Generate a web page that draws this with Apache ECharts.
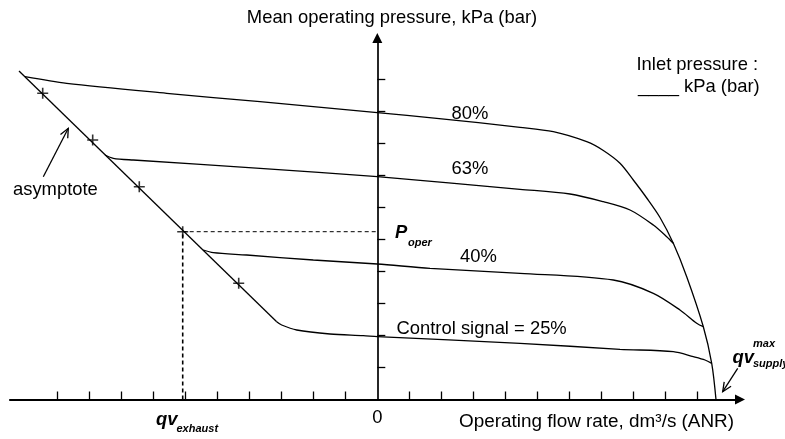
<!DOCTYPE html>
<html><head><meta charset="utf-8">
<script src="https://cdn.jsdelivr.net/npm/echarts@6/dist/echarts.min.js"></script>
<style>html,body{margin:0;padding:0;background:#fff}#c{width:785px;height:439px}</style>
</head><body><div id="c"></div>
<script>
// ---- data (axis units: one tick = 1) ----
const xTicks = [-10,-9,-8,-7,-6,-5,-4,-3,-2,-1,1,2,3,4,5,6,7,8,9,10];
const yTicks = [1,2,3,4,5,6,7,8,9,10];
const xTickLabels = [0];
const asymptote = [[-11.197,10.266],[-3.144,2.431]];
const plusMarks = [[-10.456,9.569],[-8.894,8.109],[-7.4375,6.65],[-6.081,5.244],[-4.331,3.631]];
const curve80 = [[-11.009,10.088],[-9.706,9.881],[-6.581,9.569],[-3.666,9.306],[0,8.963],[1.856,8.788],
  [4.459,8.506],[5.5,8.369],[6.544,8.056],[7.063,7.781],[7.584,7.381],[8.0,6.859],[8.419,6.297],
  [8.834,5.688],[9.25,4.881],[9.669,3.838],[10.188,2.275],[10.45,1.131],[10.584,0]];
const curve63 = [[-8.509,7.641],[-8.25,7.538],[-7.625,7.484],[-3.666,7.225],[0,6.963],[4.459,6.569],
  [6.022,6.422],[7.063,6.181],[7.897,5.922],[8.625,5.453],[9.044,5.088],[9.25,4.881]];
const curve40 = [[-5.438,4.672],[-5.125,4.588],[-4.081,4.516],[-2.0,4.359],[0,4.234],[1.647,4.1],
  [4.459,3.944],[7.375,3.734],[8.625,3.319],[9.459,2.797],[9.981,2.381],[10.188,2.275]];
const curve25 = [[-3.144,2.431],[-2.988,2.328],[-2.519,2.172],[-1.478,2.047],[-0.4375,1.994],[0,1.963],
  [4.459,1.756],[7.584,1.569],[9.25,1.494],[9.875,1.338],[10.241,1.234],[10.45,1.131]];
const pOper = 5.244;
const qvExhaust = -6.081;
const curveLabels = ['80%','63%','40%','Control signal = 25%'];

// ---- chart ----
const FONT = 'Liberation Sans, Arial, sans-serif';
const FS = 18.4;
const chart = echarts.init(document.getElementById('c'), null, {renderer:'canvas'});
const black = '#000';
function curve(data){
  return {type:'line', data:data, symbol:'none', smooth:0.3, lineStyle:{color:black,width:1.3}, z:3, silent:true};
}
function arrowHead(tail, tip, len, ang){
  const dx = tail[0]-tip[0], dy = tail[1]-tip[1];
  const L = Math.hypot(dx,dy), ux = dx/L, uy = dy/L;
  const r = a => [tip[0] + len*(ux*Math.cos(a) - uy*Math.sin(a)), tip[1] + len*(ux*Math.sin(a) + uy*Math.cos(a))];
  return [r(ang), tip, r(-ang)];
}
function txt(x, y, s, size, opts){
  return Object.assign({type:'text', x:x, y:y, silent:true,
    style:Object.assign({text:s, fontSize:size, fontFamily:FONT, fill:black, textAlign:'left', textVerticalAlign:'middle'}, opts||{})});
}
const bi = {fontStyle:'italic', fontWeight:'bold'};
const asymTail = [43.3,176.7], asymTip = [68.3,128.3];
const supTail = [737.7,368.3], supTip = [722.7,391.7];

chart.setOption({
  animation:false,
  backgroundColor:'#fff',
  grid:{left:10, right:45, top:38, bottom:39.5, containLabel:false},
  xAxis:{type:'value', min:-11.478, max:11.334,
    axisLine:{show:true, onZero:true, symbol:['none','triangle'], symbolSize:[10,10], lineStyle:{color:black,width:2.2}},
    axisTick:{show:true, inside:true, length:8, customValues:xTicks, lineStyle:{color:black,width:1.3}},
    axisLabel:{show:true, customValues:xTickLabels, formatter:v=>String(v), fontSize:FS, fontFamily:FONT, color:black, margin:9},
    splitLine:{show:false}},
  yAxis:{type:'value', min:0, max:11.297,
    axisLine:{show:true, onZero:true, symbol:['none','triangle'], symbolSize:[10,10], lineStyle:{color:black,width:1.7}},
    axisTick:{show:true, inside:true, length:8, customValues:yTicks, lineStyle:{color:black,width:1.3}},
    axisLabel:{show:false}, splitLine:{show:false}},
  series:[
    {type:'line', data:asymptote, symbol:'none', lineStyle:{color:black,width:1.3}, silent:true},
    curve(curve80), curve(curve63), curve(curve40), curve(curve25),
    {type:'line', data:[[qvExhaust,pOper],[0,pOper]], symbol:'none', lineStyle:{color:black,width:1,type:[4,3]}, silent:true},
    {type:'line', data:[[qvExhaust,0],[qvExhaust,pOper]], symbol:'none', lineStyle:{color:black,width:1.6,type:[4,3]}, silent:true},
    {type:'scatter', data:plusMarks, symbol:'path://M5,0L5,10M0,5L10,5', symbolSize:11,
      itemStyle:{color:'none', borderColor:black, borderWidth:1.6}, z:5, silent:true}
  ],
  graphic:[
    txt(392, 18, 'Mean operating pressure, kPa (bar)', FS, {textAlign:'center'}),
    txt(636.5, 65, 'Inlet pressure :', FS),
    txt(638, 87, '____ kPa (bar)', FS),
    txt(470, 114, curveLabels[0], FS, {textAlign:'center'}),
    txt(470, 168.5, curveLabels[1], FS, {textAlign:'center'}),
    txt(478.5, 257, curveLabels[2], FS, {textAlign:'center'}),
    txt(396.5, 328.5, curveLabels[3], FS),
    txt(13, 190, 'asymptote', FS),
    txt(395, 233, 'P', FS, bi),
    txt(408, 242.5, 'oper', 11, bi),
    txt(156, 420, 'qv', FS, bi),
    txt(176.5, 429, 'exhaust', 11, bi),
    txt(459, 422, 'Operating flow rate, dm³/s (ANR)', 18.9),
    txt(732.5, 357.5, 'qv', FS, bi),
    txt(753, 344, 'max', 11, bi),
    txt(753, 364, 'supply', 11, bi),
    {type:'polyline', silent:true, shape:{points:[asymTail, asymTip]}, style:{stroke:black, lineWidth:1.3, fill:null}},
    {type:'polyline', silent:true, shape:{points:arrowHead(asymTail, asymTip, 10, 0.42)}, style:{stroke:black, lineWidth:1.3, fill:null}},
    {type:'polyline', silent:true, shape:{points:[supTail, supTip]}, style:{stroke:black, lineWidth:1.3, fill:null}},
    {type:'polyline', silent:true, shape:{points:arrowHead(supTail, supTip, 10, 0.42)}, style:{stroke:black, lineWidth:1.3, fill:null}}
  ]
});
</script>
</body></html>
